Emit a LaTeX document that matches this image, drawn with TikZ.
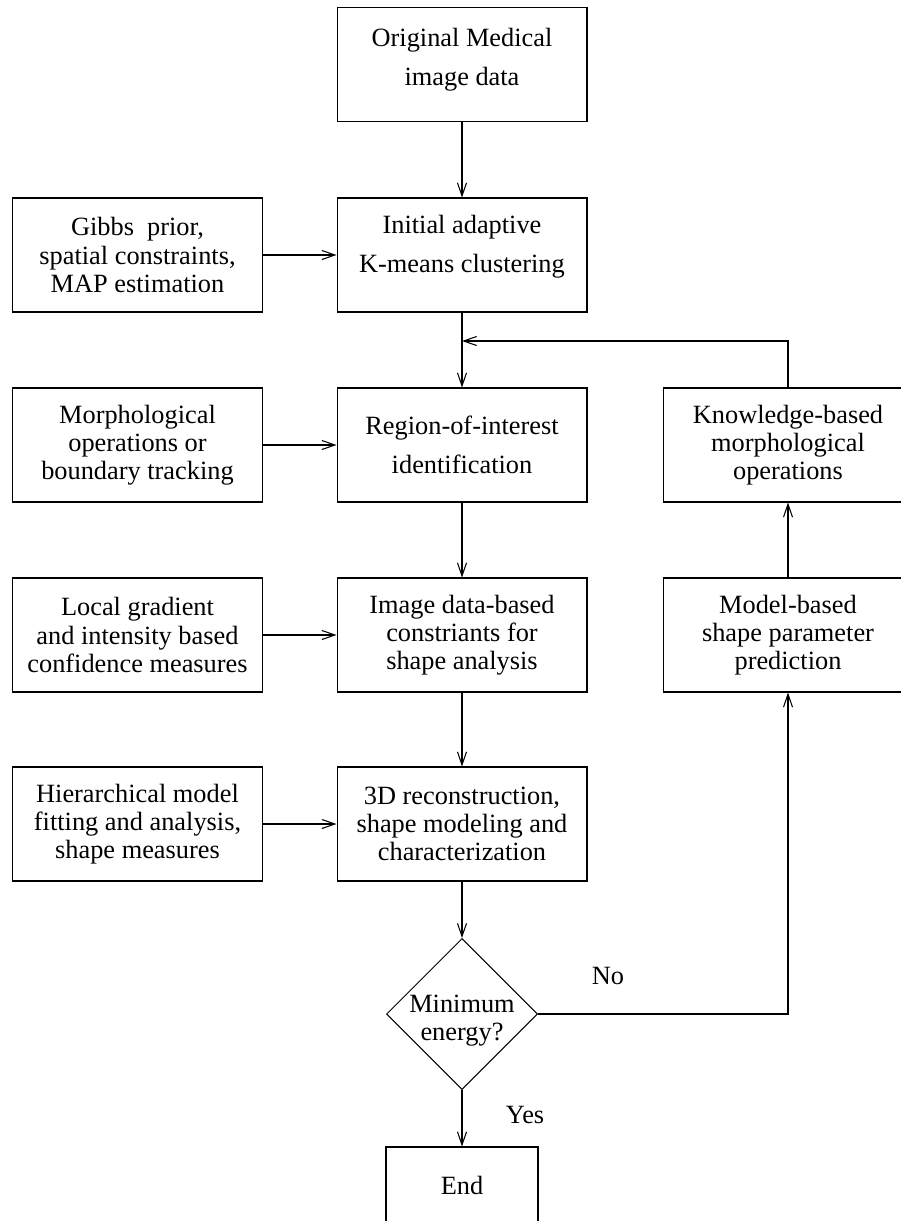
\documentclass[tikz,border=0pt]{standalone}
\usepackage{fontspec}
\setmainfont{Liberation Serif}
\usepackage{tikz}
\usetikzlibrary{shapes.geometric,arrows.meta,positioning,calc}

\begin{document}
\begin{tikzpicture}[x=0.02cm, y=-0.02cm,
    box/.style={draw, line width=0.6pt, minimum width=5cm, minimum height=2.28cm, align=center, inner sep=2pt, font=\fontsize{15}{16}\selectfont},
    lifted/.style={text depth=#1},
    decision/.style={draw, diamond, line width=0.6pt, minimum size=3.02cm, inner sep=0pt, aspect=1},
    flow/.style={line width=0.6pt, -{Straight Barb[length=2.6mm, width=1.8mm]}}]
    \useasboundingbox (0,0) rectangle (901,1221);

    % Main column
    \node[box, lifted=9pt] (orig) at (462,64.5) {Original Medical\\[6pt]image data};
    \node[box, lifted=13pt] (init) at (462,255) {Initial adaptive\\[6pt]K-means clustering};
    \node[box] (roi) at (462,445) {Region-of-interest\\[6pt]identification};
    \node[box] (imgc) at (462,635) {Image data-based\\constriants for\\shape analysis};
    \node[box] (recon) at (462,824) {3D reconstruction,\\shape modeling and\\characterization};
    \node[decision, label={[align=center, yshift=-0.14cm, font=\fontsize{15}{16}\selectfont]center:Minimum\\energy?}] (energy) at (462,1014) {};
    \node[box, minimum width=3.04cm, minimum height=1.52cm] (finish) at (462,1185) {End};

    % Side inputs
    \node[box] (gibbs) at (137.5,255) {Gibbs\ \ prior,\\spatial constraints,\\MAP estimation};
    \node[box] (morph) at (137.5,445) {Morphological\\operations or\\boundary tracking};
    \node[box] (local) at (137.5,635) {Local gradient\\and intensity based\\confidence measures};
    \node[box] (hier) at (137.5,824) {Hierarchical model\\fitting and analysis,\\shape measures};

    % Feedback column
    \node[box] (know) at (788,445) {Knowledge-based\\morphological\\operations};
    \node[box] (model) at (788,635) {Model-based\\shape parameter\\prediction};
    \coordinate (loop) at (462,341);

    \draw[flow] (orig) -- (init);
    \draw[line width=0.6pt] (init) -- (loop);
    \draw[flow] (loop) -- (roi);
    \draw[flow] (roi) -- (imgc);
    \draw[flow] (imgc) -- (recon);
    \draw[flow] (recon) -- (energy);
    \draw[flow] (energy) -- node[pos=0.45, right=0.75cm, font=\fontsize{15}{16}\selectfont] {Yes} (finish);

    \draw[flow] (gibbs) -- (init);
    \draw[flow] (morph) -- (roi);
    \draw[flow] (local) -- (imgc);
    \draw[flow] (hier) -- (recon);

    \draw[flow] (energy.east) -| node[pos=0.14, above=0.45cm, font=\fontsize{15}{16}\selectfont] {No} (model);
    \draw[flow] (model) -- (know);
    \draw[flow] (know) |- (loop);
\end{tikzpicture}
\end{document}
